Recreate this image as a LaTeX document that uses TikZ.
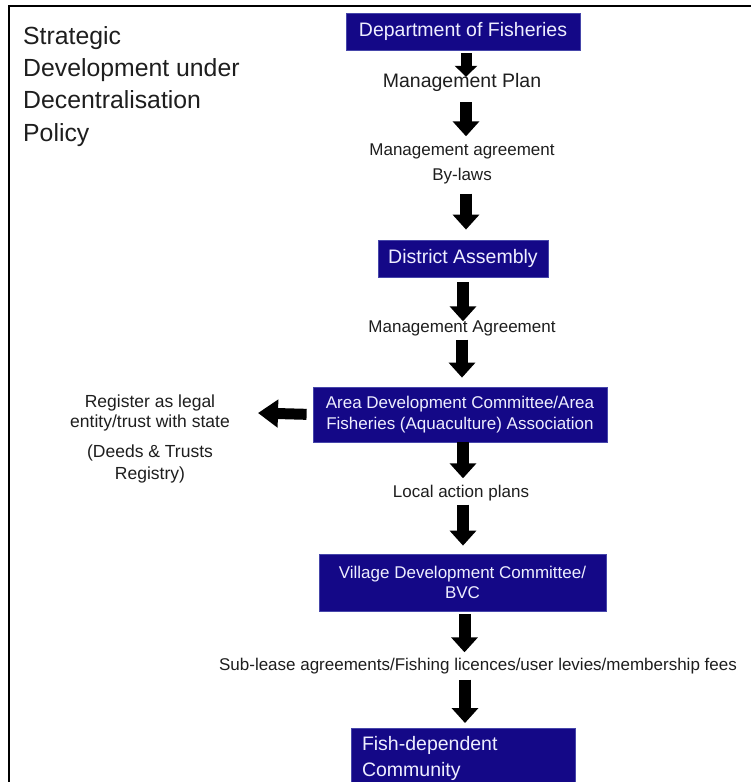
\documentclass[tikz,border=0pt]{standalone}
\usepackage{fontspec}
\setmainfont{Liberation Sans}
\usetikzlibrary{arrows.meta}
\definecolor{boxblue}{RGB}{20,8,135}
\definecolor{boxedge}{RGB}{70,70,170}
\definecolor{boxtext}{RGB}{238,238,255}
\definecolor{ink}{RGB}{30,30,30}
\tikzset{
  box/.style={fill=boxblue, draw=boxedge, line width=0.8pt, text=boxtext, inner sep=0pt, align=center},
  bigfont/.style={font=\fontsize{19.5}{26}\selectfont},
  smallfont/.style={font=\fontsize{17}{20.5}\selectfont},
  lbl/.style={text=ink, inner sep=0pt, text height=0.75em, text depth=0.25em, font=\fontsize{17}{20.5}\selectfont},
  bigarrow/.style={draw=black, line width=12pt, -{Triangle[width=26pt,length=15pt]}},
  harrow/.style={draw=black, line width=11pt, -{Triangle[width=27pt,length=20pt]}},
}
\begin{document}
\begin{tikzpicture}[x=1pt,y=-1pt]
\useasboundingbox (0,0) rectangle (751,782);
\clip (0,0) rectangle (751,782);
\fill[white] (0,0) rectangle (751,782);
% frame
\draw[black, line width=2.8pt] (9,790) -- (9,6) -- (760,6);
% title
\node[anchor=north west, inner sep=0pt, align=left, text=ink, font=\fontsize{24.8}{32.4}\selectfont] (title) at (23,26)
  {Strategic\\Development under\\Decentralisation\\Policy};
% boxes
\node[box, bigfont, minimum width=234pt, minimum height=37pt] (dept) at (463,31.5) {Department of Fisheries};
\node[lbl, font=\fontsize{19.5}{26}\selectfont] (mplan) at (462,85) {Management Plan};
\node[lbl] (magr) at (462,153) {Management agreement};
\node[lbl] (bylaws) at (462,178) {By-laws};
\node[box, bigfont, minimum width=170pt, minimum height=37pt] (district) at (463,258.5) {District Assembly};
\node[lbl] (mAgr) at (462,330) {Management Agreement};
\node[box, smallfont, minimum width=294pt, minimum height=55pt] (area) at (460,414.5)
  {Area Development Committee/Area\\Fisheries (Aquaculture) Association};
\node[lbl] (local) at (461,495) {Local action plans};
\node[box, smallfont, minimum width=287pt, minimum height=57pt] (village) at (462.5,582.5)
  {Village Development Committee/\\BVC};
\node[lbl] (sublease) at (478,668) {Sub-lease agreements/Fishing licences/user levies/membership fees};
\node[box, bigfont, minimum width=224pt, minimum height=60pt, text width=202pt, align=left, inner xsep=11pt, anchor=north] (fish) at (463,728)
  {Fish-dependent\\Community};
% left texts
\node[text=ink, inner sep=0pt, align=center, font=\fontsize{17.5}{20.5}\selectfont] (reg) at (150,413)
  {Register as legal\\entity/trust with state};
\node[text=ink, inner sep=0pt, align=center, font=\fontsize{17.5}{22}\selectfont] (deeds) at (150,464)
  {(Deeds \& Trusts\\Registry)};
\coordinate (regtip) at (258,413);
% arrows (kept vertical)
\draw[bigarrow, line width=11pt, -{Triangle[width=22pt,length=11pt]}, shorten <=3pt, shorten >=3pt] ([xshift=3pt]dept.south) -- ([xshift=3pt]dept.south |- mplan.north);
\draw[bigarrow, shorten <=12pt, shorten >=11.5pt] ([xshift=4pt]mplan.south) -- ([xshift=4pt]mplan.south |- magr.north);
\draw[bigarrow, shorten <=10.5pt, shorten >=10pt] ([xshift=4pt]bylaws.south) -- ([xshift=4pt]bylaws.south |- district.north);
\draw[bigarrow, shorten <=5pt, shorten >=3.5pt] (district.south) -- (district.south |- mAgr.north);
\draw[bigarrow, shorten <=4.5pt, shorten >=9pt] (mAgr.south) -- (mAgr.south |- area.north);
\draw[bigarrow, shorten <=0pt, shorten >=11.5pt] ([xshift=3pt]area.south) -- ([xshift=3pt]area.south |- local.north);
\draw[bigarrow, shorten <=4.5pt, shorten >=8pt] ([xshift=2pt]local.south) -- ([xshift=2pt]local.south |- village.north);
\draw[bigarrow, shorten <=3pt, shorten >=10.5pt] ([xshift=2pt]village.south) -- ([xshift=2pt]village.south |- sublease.north);
\draw[bigarrow, shorten <=6.5pt, shorten >=5pt] ([xshift=2pt]fish.north |- sublease.south) -- ([xshift=2pt]fish.north);
\draw[harrow, shorten <=6pt] (area.west) -- (regtip);
\end{tikzpicture}
\end{document}
